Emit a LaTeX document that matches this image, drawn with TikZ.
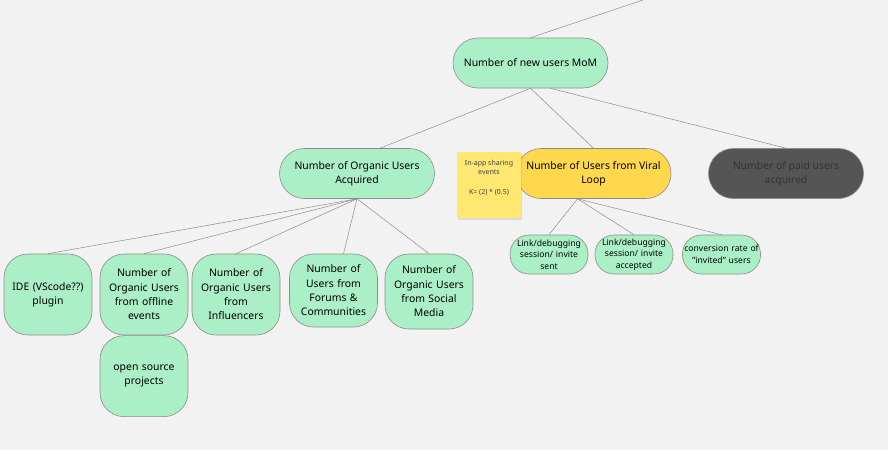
\documentclass[tikz,border=0pt]{standalone}
\usepackage{fontspec}
\setmainfont{Noto Sans}
\usetikzlibrary{positioning, shadows}

\definecolor{mint}{HTML}{ABEFC6}
\definecolor{viral}{HTML}{FFD84D}
\definecolor{paid}{HTML}{555555}
\definecolor{sticky}{HTML}{FFE872}
\definecolor{canvas}{HTML}{F2F2F2}

\begin{document}
\begin{tikzpicture}[
        x=1pt, y=-1pt,
        font=\fontsize{10.4}{14.3}\selectfont,
        pill/.style={
            draw=black!45,
            line width=0.6pt,
            fill=mint,
            align=center,
            inner sep=2pt,
            minimum width=155pt,
            minimum height=50pt,
            rounded corners=25pt
        },
        leaf/.style={
            pill,
            text width=82pt,
            minimum width=88pt,
            minimum height=81pt,
            rounded corners=24pt
        },
        twig/.style={
            pill,
            font=\fontsize{8.6}{11.7}\selectfont,
            inner sep=0pt,
            text width=78pt,
            minimum width=78pt,
            minimum height=39pt,
            rounded corners=19pt
        },
        link/.style={draw=black!45, line width=0.5pt}
    ]

    % --- CANVAS ---
    \fill[canvas] (0,0) rectangle (888,450);
    \useasboundingbox (0,0) rectangle (888,450);

    % --- TOP ---
    \node[pill] (mom) at (530.5,63) {Number of new users MoM};
    \coordinate (up) at (643,0);

    % --- SECOND ROW ---
    \node[pill] (organic) at (357,173.5) {Number of Organic Users\\Acquired};
    \node[pill, fill=viral] (viralloop) at (593.5,173.5) {Number of Users from Viral\\Loop};
    \node[pill, fill=paid, text=black!80] (paidusers) at (786,173.5) {Number of paid users\\acquired};

    % --- NOTE ---
    \node[fill=sticky, drop shadow={opacity=0.2, shadow xshift=1pt, shadow yshift=-1.5pt},
          minimum width=64pt, minimum height=66pt, align=center, inner sep=1pt,
          font=\fontsize{7}{9.3}\selectfont, text=black!75] (note) at (489,185)
        {In-app sharing\\events\\[11pt]K= (2) * (0.5)\\[6pt]};

    % --- VIRAL LEAVES ---
    \node[twig] (sent) at (549,254.5) {Link/debugging\\session/ invite\\sent};
    \node[twig] (accepted) at (634,254.5) {Link/debugging\\session/ invite\\accepted};
    \node[twig] (conversion) at (721.5,254.5) {conversion rate of\\"invited" users};

    % --- ORGANIC LEAVES ---
    \node[leaf] (ide) at (48,294.5) {IDE (VScode??)\\plugin};
    \node[leaf] (offline) at (144,294.5) {Number of\\Organic Users\\from offline\\events};
    \node[leaf] (influencers) at (236,294.5) {Number of\\Organic Users\\from\\Influencers};
    \node[leaf, minimum height=73pt] (forums) at (333.5,290.5) {Number of\\Users from\\Forums \&\\Communities};
    \node[leaf, minimum height=75pt] (social) at (429,291.5) {Number of\\Organic Users\\from Social\\Media};
    \node[leaf, below=0pt of offline] (opensource) {open source\\projects};

    % --- LINKS ---
    \draw[link] (mom.north) -- (up);
    \draw[link] (mom.south) -- ([xshift=23pt]organic.north);
    \draw[link] (mom.south) -- (viralloop.north);
    \draw[link] ([xshift=20pt]mom.south) -- (paidusers.north);

    \draw[link] ([xshift=-16pt]viralloop.south) -- (sent.north);
    \draw[link] ([xshift=-16pt]viralloop.south) -- (accepted.north);
    \draw[link] ([xshift=-16pt]viralloop.south) -- (conversion.north);

    \draw[link] (organic.south) -- (ide.north);
    \draw[link] (organic.south) -- (offline.north);
    \draw[link] (organic.south) -- (influencers.north);
    \draw[link] (organic.south) -- ([xshift=10pt]forums.north);
    \draw[link] (organic.south) -- (social.north);

\end{tikzpicture}
\end{document}
